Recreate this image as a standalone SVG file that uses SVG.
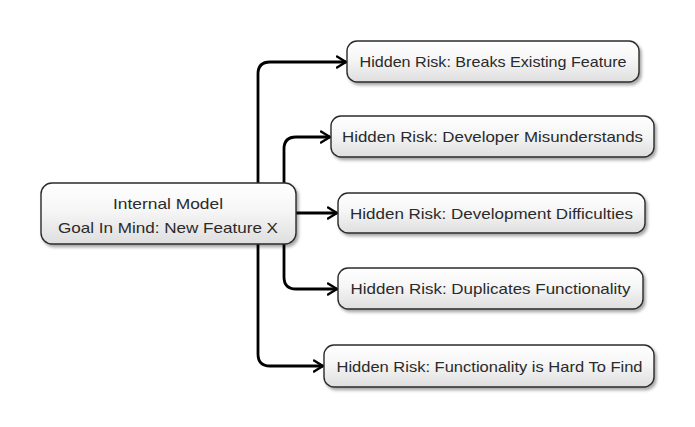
<svg xmlns="http://www.w3.org/2000/svg" width="695" height="427" viewBox="0 0 695 427">
  <defs>
    <linearGradient id="boxFill" x1="0" y1="0" x2="0" y2="1">
      <stop offset="0" stop-color="#ffffff"/>
      <stop offset="0.45" stop-color="#f6f6f6"/>
      <stop offset="1" stop-color="#dedede"/>
    </linearGradient>
    <filter id="shadow" x="-10%" y="-20%" width="120%" height="150%">
      <feDropShadow dx="2" dy="2.5" stdDeviation="1.5" flood-color="#000" flood-opacity="0.35"/>
    </filter>
    <marker id="arrow" viewBox="0 0 12 14" refX="10.5" refY="7" markerWidth="12" markerHeight="14" markerUnits="userSpaceOnUse" orient="auto">
      <path d="M1.5,1.5 L10.5,7 L1.5,12.5" fill="none" stroke="#000" stroke-width="2.4" stroke-linecap="round" stroke-linejoin="round"/>
    </marker>
    <style>
      .box { fill: url(#boxFill); stroke: #2b2b2b; stroke-width: 1.4; filter: url(#shadow); }
      .lbl { font-family: "Liberation Sans", Arial, sans-serif; font-size: 15px; fill: #2a2a2a; text-anchor: middle; }
      .conn { fill: none; stroke: #000; stroke-width: 2.8; marker-end: url(#arrow); }
    </style>
  </defs>
  <rect width="695" height="427" fill="#ffffff"/>

  <g id="connectors">
    <path class="conn" d="M258 183 V74 Q258 62 270 62 H346"/>
    <path class="conn" d="M284 183 V149 Q284 137 296 137 H330"/>
    <path class="conn" d="M296 213 H337"/>
    <path class="conn" d="M284 244 V277 Q284 289 296 289 H337"/>
    <path class="conn" d="M258 244 V354 Q258 366 270 366 H323"/>
  </g>

  <g id="internal-model">
    <rect class="box" x="41" y="183" width="255" height="61" rx="11" ry="11"/>
    <text class="lbl" x="168" y="209" textLength="110" lengthAdjust="spacingAndGlyphs">Internal Model</text>
    <text class="lbl" x="168" y="233" textLength="220" lengthAdjust="spacingAndGlyphs">Goal In Mind: New Feature X</text>
  </g>

  <g id="risk-breaks-existing">
    <rect class="box" x="347" y="41" width="292" height="41" rx="10" ry="10"/>
    <text class="lbl" x="493" y="67" textLength="267" lengthAdjust="spacingAndGlyphs">Hidden Risk: Breaks Existing Feature</text>
  </g>

  <g id="risk-developer-misunderstands">
    <rect class="box" x="331" y="116" width="323" height="41" rx="10" ry="10"/>
    <text class="lbl" x="492.5" y="142" textLength="301" lengthAdjust="spacingAndGlyphs">Hidden Risk: Developer Misunderstands</text>
  </g>

  <g id="risk-development-difficulties">
    <rect class="box" x="338" y="193" width="307" height="40" rx="10" ry="10"/>
    <text class="lbl" x="491.5" y="218.5" textLength="283" lengthAdjust="spacingAndGlyphs">Hidden Risk: Development Difficulties</text>
  </g>

  <g id="risk-duplicates-functionality">
    <rect class="box" x="338" y="268" width="305" height="41" rx="10" ry="10"/>
    <text class="lbl" x="490.5" y="294" textLength="280" lengthAdjust="spacingAndGlyphs">Hidden Risk: Duplicates Functionality</text>
  </g>

  <g id="risk-hard-to-find">
    <rect class="box" x="324" y="345" width="330" height="42" rx="10" ry="10"/>
    <text class="lbl" x="489.5" y="371.5" textLength="306" lengthAdjust="spacingAndGlyphs">Hidden Risk: Functionality is Hard To Find</text>
  </g>
</svg>
